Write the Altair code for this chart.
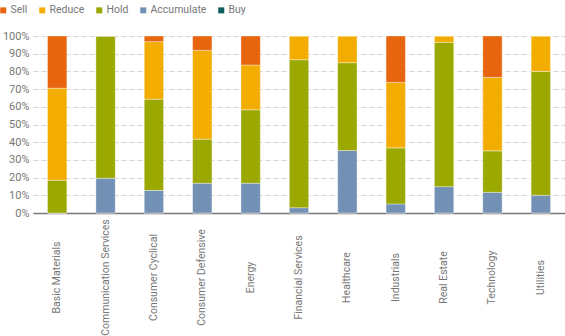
import altair as alt
import pandas as pd

sectors = ["Basic Materials", "Communication Services", "Consumer Cyclical",
           "Consumer Defensive", "Energy", "Financial Services", "Healthcare",
           "Industrials", "Real Estate", "Technology", "Utilities"]
ratings = ["Sell", "Reduce", "Hold", "Accumulate", "Buy"]
colors = ["#E8650F", "#F2AD00", "#9AA800", "#7391B5", "#0D5E5A"]

buy = [0, 0, 0, 0, 0, 0, 0, 0, 0, 0, 0]
accumulate = [0, 19.6, 12.8, 16.8, 16.8, 3.0, 35.3, 5.1, 14.9, 11.7, 10.0]
hold = [18.5, 80.4, 51.5, 24.9, 41.5, 83.6, 49.6, 31.7, 81.5, 23.4, 70.0]
reduce_ = [52.0, 0, 32.5, 50.2, 25.3, 13.4, 15.1, 37.0, 3.6, 41.5, 20.0]
sell = [29.5, 0, 3.2, 8.1, 16.4, 0, 0, 26.2, 0, 23.4, 0]

series = {"Buy": buy, "Accumulate": accumulate, "Hold": hold,
          "Reduce": reduce_, "Sell": sell}
stack_rank = {"Buy": 0, "Accumulate": 1, "Hold": 2, "Reduce": 3, "Sell": 4}

rows = []
for r, vals in series.items():
    for s, v in zip(sectors, vals):
        rows.append({"Sector": s, "Rating": r, "Value": v / 100.0,
                     "rank": stack_rank[r]})
df = pd.DataFrame(rows)

FONT = "Roboto, sans-serif"

chart = alt.Chart(df).mark_bar(
    stroke="white", strokeWidth=0.8, strokeOpacity=0.45
).encode(
    x=alt.X("Sector:N", sort=sectors,
            scale=alt.Scale(paddingInner=0.6, paddingOuter=0.3),
            axis=alt.Axis(title=None, labelAngle=270, labelAlign="center",
                          labelBaseline="middle", labelPadding=64,
                          ticks=False, domainColor="#777777", domainWidth=1.5,
                          labelColor="#777777", labelFontSize=10.5,
                          labelFont=FONT)),
    y=alt.Y("Value:Q", stack="zero",
            scale=alt.Scale(domain=[0, 1], nice=False),
            axis=alt.Axis(title=None, format=".0%",
                          values=[i / 10 for i in range(11)],
                          ticks=False, domain=False, labelPadding=4,
                          gridColor="#d6d6d6", gridDash=[5, 3],
                          gridWidth=1, labelColor="#777777",
                          labelFontSize=11, labelFont=FONT)),
    color=alt.Color("Rating:N",
                    scale=alt.Scale(domain=ratings, range=colors),
                    legend=alt.Legend(title=None, orient="none",
                                      direction="horizontal",
                                      legendX=-35, legendY=-31,
                                      symbolType="square", symbolSize=36,
                                      symbolStrokeWidth=0,
                                      labelFont=FONT, labelFontSize=10.5,
                                      labelColor="#777777",
                                      columnPadding=9, labelOffset=2)),
    order=alt.Order("rank:Q", sort="ascending"),
).properties(
    width=532, height=177,
    autosize=alt.AutoSizeParams(type="none"),
    padding={"left": 33, "top": 36, "right": 0, "bottom": 123},
).configure_view(stroke=None)

chart.save("out.html", embed_options={"renderer": "svg", "actions": False})
